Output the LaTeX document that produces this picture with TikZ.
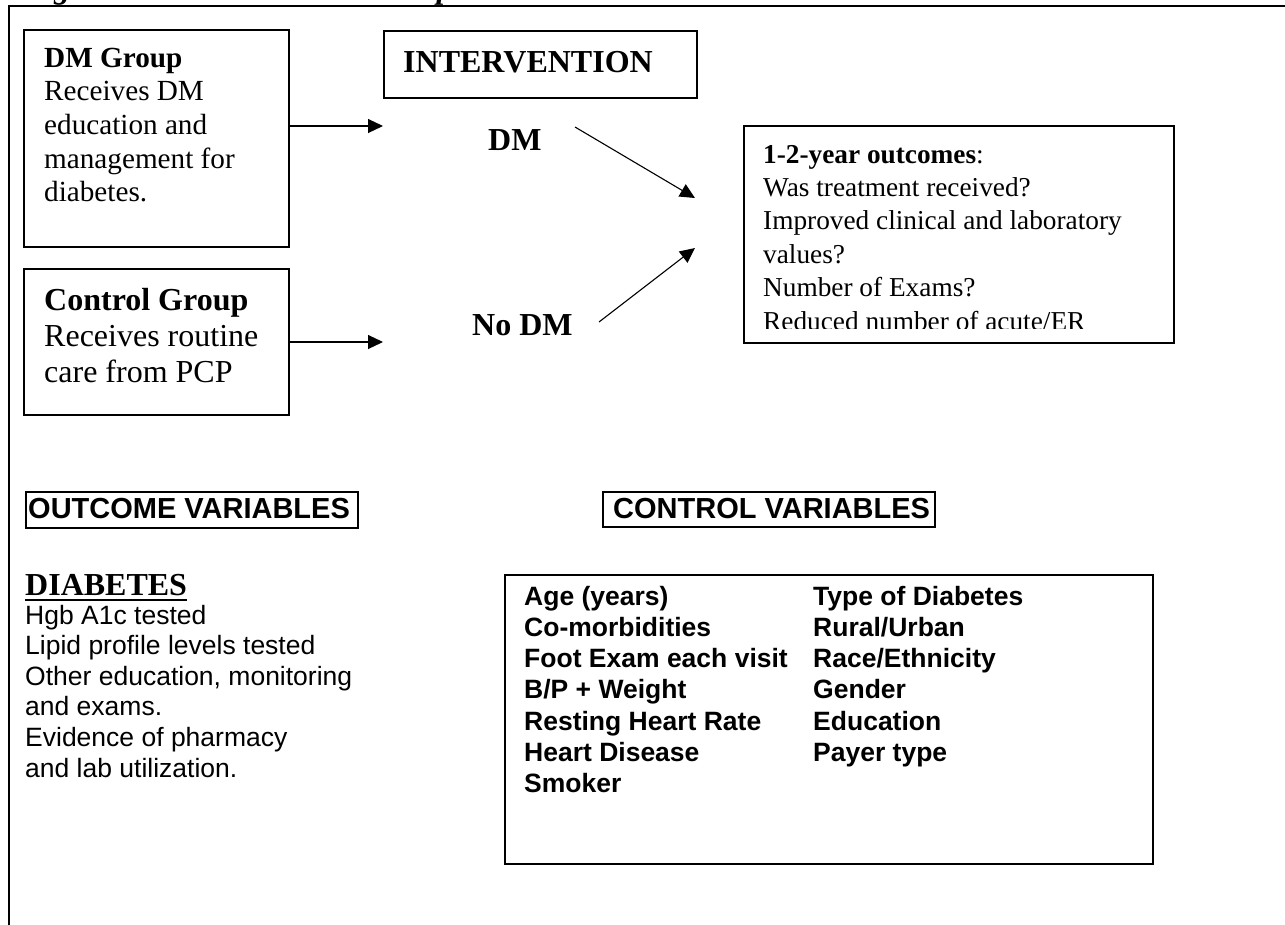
\documentclass[tikz,border=0pt]{standalone}
\usepackage{fontspec}
\setmainfont{Liberation Serif}
\setsansfont{Liberation Sans}
\usetikzlibrary{arrows.meta}
\newcommand\txtlines[1]{\begin{tabular}[t]{@{}l@{}}#1\end{tabular}}
\newcommand\fs[2]{\fontsize{#1pt}{#2pt}\selectfont}
\begin{document}
\begin{tikzpicture}[x=1pt,y=-1pt,
  frame/.style={draw, line width=1.5pt, inner sep=0pt, anchor=north west},
  hframe/.style={draw, line width=2pt, inner sep=0pt, anchor=north west},
  txt/.style={inner sep=0pt, anchor=base west},
  arr/.style={line width=1.1pt, -{Triangle[length=15pt,width=14pt]}}]
\useasboundingbox (0,0) rectangle (1285,924);
% cut-off title and outer frame
\node[txt, font=\fs{32}{36}\bfseries\itshape] (title1) at (24,-1.5) {Figure 1: Diabetes};
\node[txt, font=\fs{32}{36}\bfseries\itshape] (title2) at (353,-1.5) {Conceptual Model};
\draw[line width=2pt] (1290,6) -- (8.5,6) -- (8.5,930);
% groups
\node[frame, minimum width=265pt, minimum height=217pt] (dmg) at (23,29) {};
\node[txt, font=\fs{29.2}{33.7}] (dmgt) at (44,67) {\txtlines{\textbf{DM Group}\\Receives DM\\education and\\management for\\diabetes.}};
\node[frame, minimum width=265pt, minimum height=146pt] (ctg) at (23,268) {};
\node[txt, font=\fs{32}{36.3}] (ctgt) at (44,310) {\txtlines{\textbf{Control Group}\\Receives routine\\care from PCP}};
% intervention
\node[frame, minimum width=313pt, minimum height=67pt] (intv) at (383,30) {};
\node[txt, font=\fs{32}{36}\bfseries] (intvt) at (403,72) {INTERVENTION};
\node[txt, font=\fs{32}{36}\bfseries] (dm) at (488,150) {DM};
\node[txt, font=\fs{32}{36}\bfseries] (nodm) at (472,335) {No DM};
% outcomes box
\node[frame, minimum width=430pt, minimum height=217pt] (outc) at (743,125) {};
\begin{scope}
\clip (740,120) rectangle (1180,328);
\node[txt, font=\fs{27.3}{33.4}] (outct) at (763,163) {\txtlines{\textbf{1-2-year outcomes}:\\Was treatment received?\\Improved clinical and laboratory\\values?\\Number of Exams?\\Reduced number of acute/ER}};
\end{scope}
% arrows
\coordinate (a1) at (383,126);
\coordinate (a2) at (383,342);
\draw[arr] (dmg.east |- a1) -- (a1);
\draw[arr] (ctg.east |- a2) -- (a2);
\coordinate (b1s) at (575,127);
\coordinate (b1e) at (695,198);
\coordinate (b2s) at (599,322);
\coordinate (b2e) at (695,248);
\draw[arr] (b1s) -- (b1e);
\draw[arr] (b2s) -- (b2e);
% headers
\node[hframe, minimum width=332pt, minimum height=36pt] (ovb) at (25,491) {};
\node[txt, font=\sffamily\bfseries\fs{29}{33}] (ov) at (28,518) {OUTCOME VARIABLES};
\node[hframe, minimum width=332pt, minimum height=35pt] (cvb) at (602,491) {};
\node[txt, font=\sffamily\bfseries\fs{29}{33}] (cv) at (613,518) {CONTROL VARIABLES};
% diabetes outcome list
\node[txt, font=\bfseries\fs{32}{36}] (diab) at (25,595) {DIABETES};
\draw[line width=2.5pt] ([yshift=-5pt]diab.base west) -- ([yshift=-5pt]diab.base east);
\node[txt, font=\sffamily\fs{26.5}{30.6}] (olist) at (25,624) {\txtlines{Hgb A1c tested\\Lipid profile levels tested\\Other education, monitoring\\and exams.\\Evidence of pharmacy\\and lab utilization.}};
% control variables box
\node[frame, minimum width=648pt, minimum height=289pt] (cvbox) at (504,574) {};
\node[txt, font=\sffamily\bfseries\fs{26.5}{31.3}] (c1) at (524,605) {\txtlines{Age (years)\\Co-morbidities\\Foot Exam each visit\\B/P + Weight\\Resting Heart Rate\\Heart Disease\\Smoker}};
\node[txt, font=\sffamily\bfseries\fs{26.5}{31.3}] (c2) at (813,605) {\txtlines{Type of Diabetes\\Rural/Urban\\Race/Ethnicity\\Gender\\Education\\Payer type}};
\end{tikzpicture}
\end{document}
